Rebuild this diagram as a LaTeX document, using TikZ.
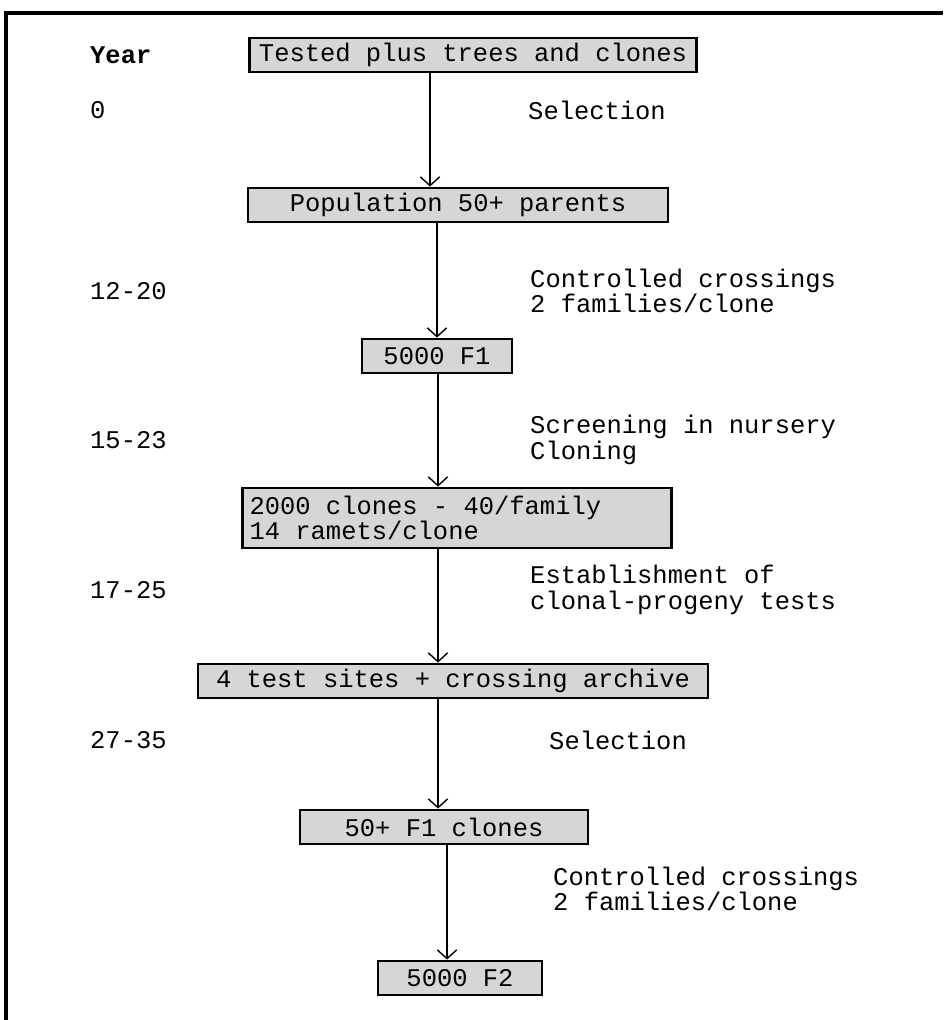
\documentclass[tikz,border=0pt]{standalone}
\usepackage{fontspec}
\setmainfont{Liberation Mono}
\usetikzlibrary{arrows.meta,positioning}
\tikzset{
    %Define standard arrow tip
    >={Straight Barb[length=5pt,width=11pt]},
    %Define style for boxes
    stage/.style={
           rectangle,
           draw=black, line width=1.6pt,
           inner sep=2pt,
           minimum height=0.68cm,
           font=\fontsize{14.5}{14.5}\selectfont,
           text centered,
           fill=black!16},
    % Define style for side texts
    yearlbl/.style={
           anchor=west,
           font=\fontsize{14.5}{14.5}\selectfont},
    steplbl/.style={
           anchor=west,
           align=left,
           font=\fontsize{14.5}{14.5}\selectfont},
    % Define arrow style
    pil/.style={
           ->,
           line width=0.8pt}
}

\begin{document}
\begin{tikzpicture}[x=0.02cm,y=-0.02cm]
\useasboundingbox (0,0) rectangle (943,1020);
\draw[line width=2.4pt] (6,1020) -- (6,13) -- (943,13);

\node[stage, minimum width=8.94cm](tested) at (473,55){Tested plus trees and clones};
\node[stage, minimum width=8.4cm](pop) at (458,205){Population 50+ parents};
\node[stage, minimum width=3.0cm](fone) at (437,356){5000 F1};
\node[stage, align=left, inner xsep=4pt, minimum height=1.2cm](clones) at (457,518){\makebox[8.3cm][l]{2000 clones - 40/family}\\14 ramets/clone};
\node[stage, minimum width=10.2cm](sites) at (453,681){4 test sites + crossing archive};
\node[stage, minimum width=5.76cm](sel) at (444,827){50+ F1 clones};
\node[stage, minimum width=3.28cm](ftwo) at (460,978){5000 F2};

\coordinate (c1) at (430,0);
\coordinate (c2) at (437,0);
\coordinate (c3) at (438,0);
\coordinate (c4) at (447,0);
\path[pil] (tested.south -| c1) edge (pop.north -| c1)
           (pop.south -| c2) edge (fone.north -| c2)
           (fone.south -| c3) edge (clones.north -| c3)
           (clones.south -| c3) edge (sites.north -| c3)
           (sites.south -| c3) edge (sel.north -| c3)
           (sel.south -| c4) edge (ftwo.north -| c4);

\node[yearlbl, font=\fontsize{14.5}{14.5}\selectfont\bfseries](year) at (84,55){Year};
\node[yearlbl](y0) at (84,110){0};
\node[yearlbl](y1) at (84,291){12-20};
\node[yearlbl](y2) at (84,440){15-23};
\node[yearlbl](y3) at (84,590){17-25};
\node[yearlbl](y4) at (84,740){27-35};

\node[steplbl](s0) at (522,110){Selection};
\node[steplbl](s1) at (524,291){Controlled crossings\\2 families/clone};
\node[steplbl](s2) at (524,440){Screening in nursery\\Cloning};
\node[steplbl](s3) at (524,590){Establishment of\\clonal-progeny tests};
\node[steplbl](s4) at (543,740){Selection};
\node[steplbl](s5) at (547,889){Controlled crossings\\2 families/clone};
\end{tikzpicture}
\end{document}
